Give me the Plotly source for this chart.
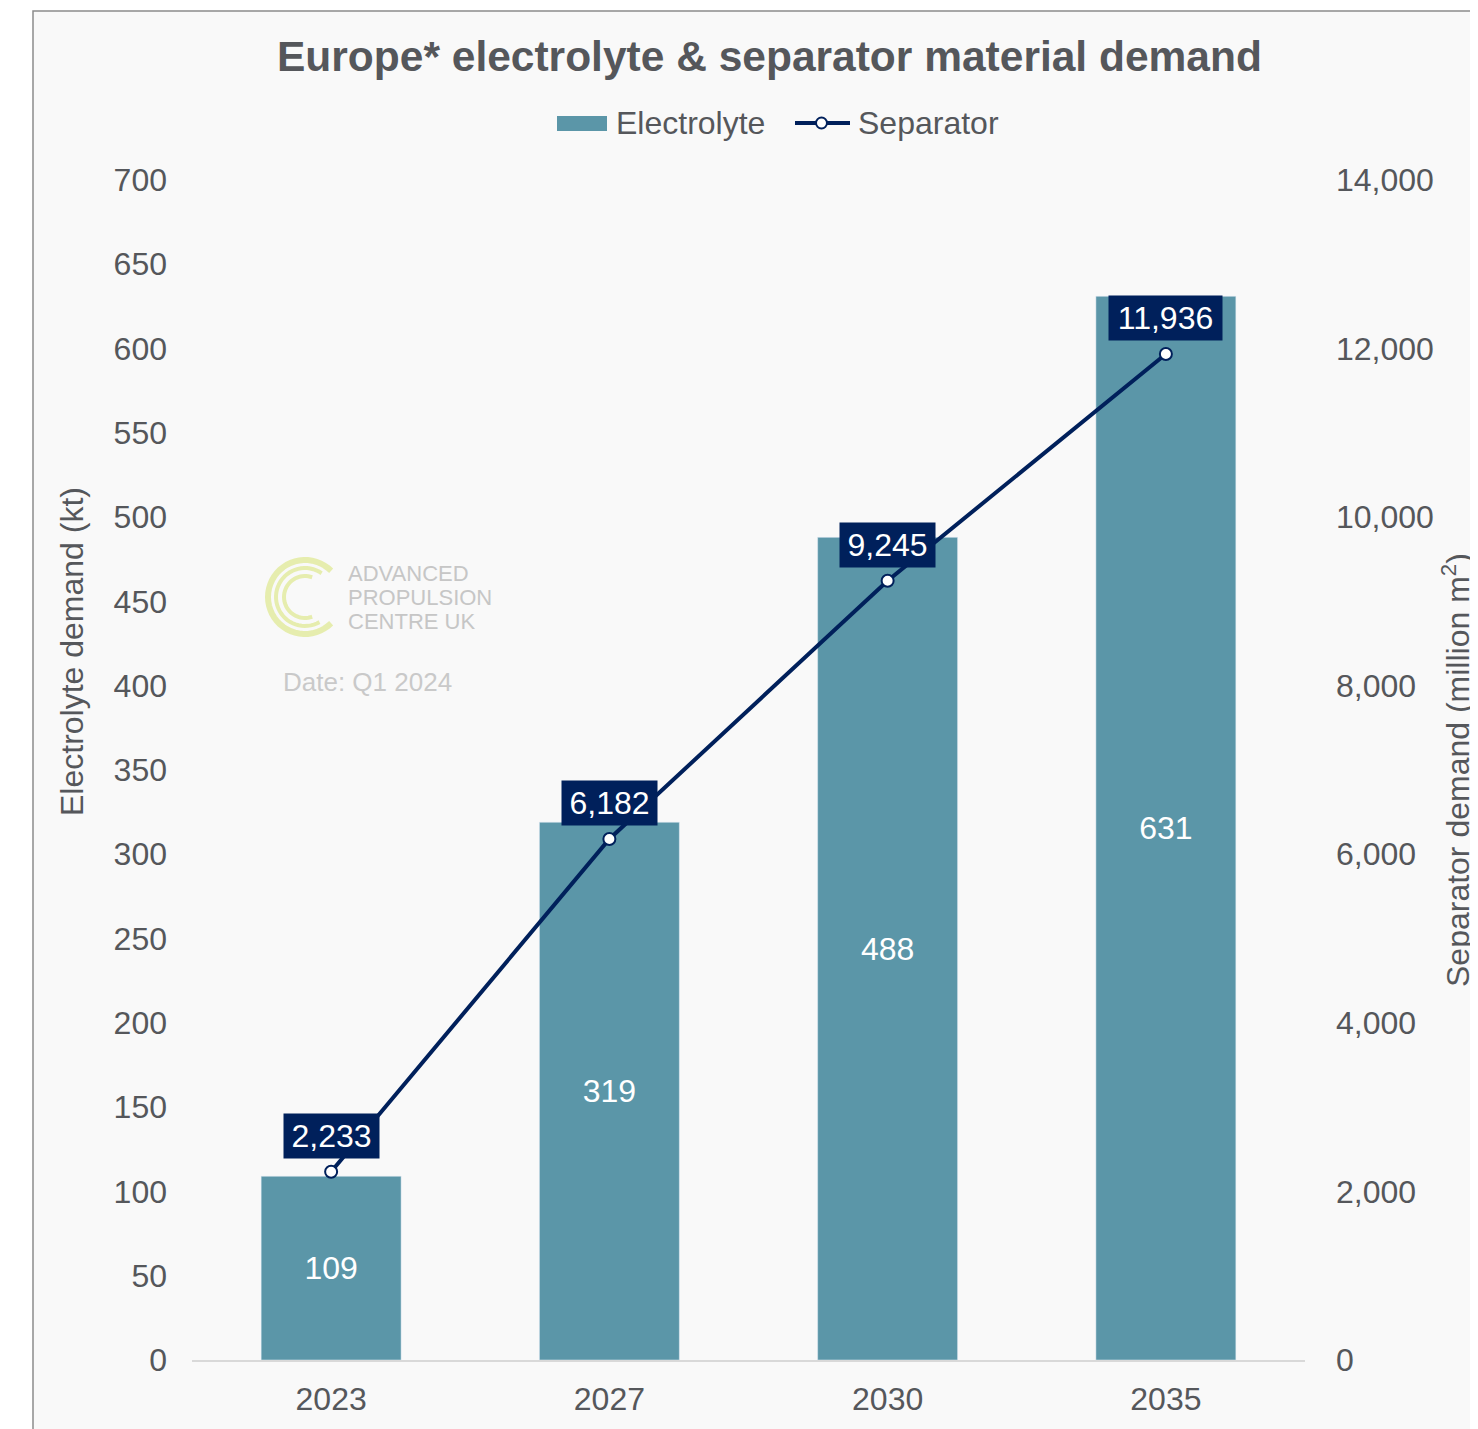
import math

import plotly.graph_objects as go

# Data
years = ["2023", "2027", "2030", "2035"]
electrolyte_kt = [109, 319, 488, 631]
separator_mm2 = [2233, 6182, 9245, 11936]

BAR_COLOR = "#5B96A8"
NAVY = "#00205B"
TEXT_GRAY = "#55575B"
FONT = "Liberation Sans, Arial, sans-serif"

# page body has an 8px margin, so the figure sits at (8, 8)
OFF = 8
W, H = 1470, 1421
ML, MT = 192 - OFF, 180 - OFF
MR, MB = W - (1305 - OFF), H - (1360 - OFF)
PW, PH = W - ML - MR, H - MT - MB


def px_x(x):
    # page pixel -> paper x
    return (x - OFF - ML) / PW


def px_y(y):
    # page pixel -> paper y
    return (H - MB - (y - OFF)) / PH


fig = go.Figure()

fig.add_trace(
    go.Bar(
        x=years,
        y=electrolyte_kt,
        name="Electrolyte",
        marker_color=BAR_COLOR,
        texttemplate="%{y}",
        textposition="inside",
        insidetextanchor="middle",
        textangle=0,
        textfont={"color": "white", "size": 32, "family": FONT},
        showlegend=False,
    )
)

fig.add_trace(
    go.Scatter(
        x=years,
        y=separator_mm2,
        name="Separator",
        yaxis="y2",
        mode="lines+markers",
        line={"color": NAVY, "width": 4},
        marker={"size": 12, "color": "white", "line": {"color": NAVY, "width": 2}},
        showlegend=False,
    )
)

# Separator value labels in navy boxes (category index on the x axis)
for i, val in enumerate(separator_mm2):
    label = f"{val:,}"
    text_w = sum(0.278 if ch == "," else 0.556 for ch in label) * 32
    fig.add_annotation(
        x=i,
        y=val,
        yref="y2",
        text=label,
        showarrow=False,
        yshift=36,
        width=round(text_w) + 7,
        bgcolor=NAVY,
        borderpad=4,
        font={"color": "white", "size": 32, "family": FONT},
    )


def paper_note(x, y, text, size, color, **kw):
    kw.setdefault("xanchor", "center")
    kw.setdefault("yanchor", "middle")
    fig.add_annotation(
        x=px_x(x), y=px_y(y), xref="paper", yref="paper", showarrow=False,
        text=text, font={"size": size, "color": color, "family": FONT}, **kw,
    )


# Title and axis titles
paper_note(770, 57, "<b>Europe* electrolyte & separator material demand</b>", 42.5, TEXT_GRAY)
paper_note(72, 652, "Electrolyte demand (kt)", 32, TEXT_GRAY, textangle=-90)
paper_note(1456, 770, "Separator demand (million m<sup>2</sup>)", 32, TEXT_GRAY, textangle=-90)

# Legend drawn by hand
paper_note(614, 123, "Electrolyte", 32, TEXT_GRAY, xanchor="left")
paper_note(856, 123, "Separator", 32, TEXT_GRAY, xanchor="left")

# Watermark
for i, line in enumerate(["ADVANCED", "PROPULSION", "CENTRE UK"]):
    paper_note(346, 573 + 24 * i, line, 22, "#C6C6C6", xanchor="left")
paper_note(367, 682, "Date: Q1 2024", 26, "#C9C9C9")

shapes = [
    dict(
        type="rect", xref="paper", yref="paper",
        x0=px_x(33), x1=px_x(1700), y0=px_y(11), y1=px_y(1600),
        line={"color": "#8C8C8C", "width": 1.5}, fillcolor="#F9F9F9", layer="below",
    ),
    dict(
        type="rect", xref="paper", yref="paper",
        x0=px_x(557), x1=px_x(607), y0=px_y(116), y1=px_y(131),
        line={"width": 0}, fillcolor=BAR_COLOR,
    ),
    dict(
        type="line", xref="paper", yref="paper",
        x0=px_x(795), x1=px_x(850), y0=px_y(123), y1=px_y(123),
        line={"color": NAVY, "width": 4},
    ),
    dict(
        type="circle", xref="paper", yref="paper",
        x0=px_x(816), x1=px_x(827), y0=px_y(117.5), y1=px_y(128.5),
        line={"color": NAVY, "width": 2}, fillcolor="white",
    ),
]

cx, cy = 305, 597
arcs = [(37, 6, 45, 315), (29, 4, 55, 300), (21, 4, 70, 290)]
for r, w, a0, a1 in arcs:
    pts = []
    for k in range(41):
        a = math.radians(a0 + (a1 - a0) * k / 40)
        pts.append((px_x(cx + r * math.cos(a)), px_y(cy - r * math.sin(a))))
    path = "M " + " L ".join(f"{x:.5f},{y:.5f}" for x, y in pts)
    shapes.append(
        dict(type="path", xref="paper", yref="paper", path=path,
             line={"color": "#E6EDAE", "width": w}, layer="below")
    )

fig.update_layout(
    width=W,
    height=H,
    margin={"l": ML, "r": MR, "t": MT, "b": MB},
    paper_bgcolor="white",
    plot_bgcolor="rgba(0,0,0,0)",
    font={"family": FONT, "size": 32, "color": TEXT_GRAY},
    bargap=0.497,
    shapes=shapes,
    showlegend=False,
    xaxis={
        "type": "category",
        "range": [-0.5, len(years) - 0.5],
        "showline": True,
        "linecolor": "#D9D9D9",
        "linewidth": 2,
        "showgrid": False,
        "ticks": "",
        "ticklabelstandoff": 10,
        "tickfont": {"size": 32},
    },
    yaxis={
        "range": [0, 700],
        "dtick": 50,
        "showgrid": False,
        "zeroline": False,
        "showline": False,
        "ticklabelstandoff": 24,
        "tickfont": {"size": 32},
    },
    yaxis2={
        "range": [0, 14000],
        "dtick": 2000,
        "tickformat": ",",
        "overlaying": "y",
        "side": "right",
        "showgrid": False,
        "zeroline": False,
        "showline": False,
        "ticklabelstandoff": 30,
        "tickfont": {"size": 32},
    },
)

fig.write_html("out.html")
